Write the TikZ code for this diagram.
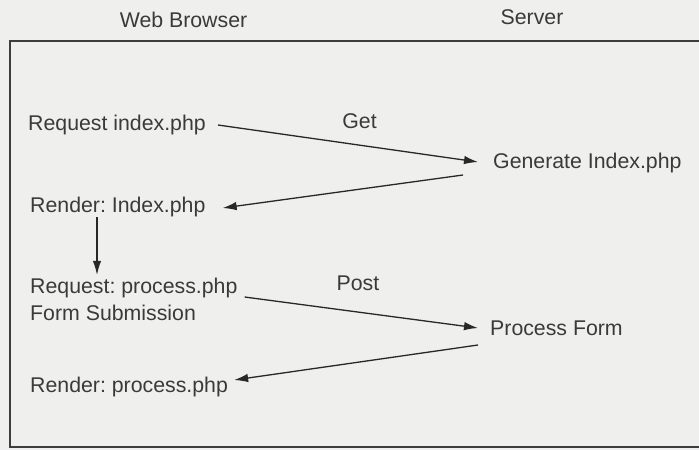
\documentclass[tikz,border=0pt]{standalone}
\usepackage{fontspec}
\setmainfont{Liberation Sans}
\usetikzlibrary{arrows.meta}
\frenchspacing

\definecolor{paper}{RGB}{239,239,237}
\definecolor{ink}{RGB}{58,58,58}
\definecolor{pen}{RGB}{40,40,40}

\begin{document}
\begin{tikzpicture}[x=1pt, y=-1pt,
    lbl/.style={anchor=west, inner sep=0pt, text=ink, font=\fontsize{21.3}{25}\selectfont},
    head/.style={inner sep=0pt, text=ink, font=\fontsize{21.3}{25}\selectfont},
    arr/.style={draw=pen, line width=1.3pt, -{Latex[length=14pt,width=8.5pt]}},
    frame/.style={draw=pen!90, line width=1.6pt}]
    % Page size and paper
    \useasboundingbox (0,0) rectangle (699,450);
    \fill[paper] (0,0) rectangle (699,450);
    % Column headers
    \node[head] (browser) at (183.5,20) {Web Browser};
    \node[head] (server) at (532,17) {Server};
    % Open frame (runs off the right edge)
    \draw[frame] (699,41) -- (10,41) -- (10,447) -- (699,447);
    % Browser side
    \node[lbl] (reqidx) at (28,125) {Request index.php};
    \node[lbl] (rendidx) at (30,207) {Render: Index.php};
    \node[lbl] (reqproc) at (30,288) {Request: process.php};
    \node[lbl] (formsub) at (30,313) {Form Submission};
    \node[lbl] (rendproc) at (30,387) {Render: process.php};
    % Server side
    \node[lbl] (genidx) at (493,163) {Generate Index.php};
    \node[lbl] (procform) at (490,328) {Process Form};
    % Method labels
    \node[head] (get) at (359.5,121) {Get};
    \node[head] (post) at (358,283) {Post};
    % Messages
    \draw[arr] ([xshift=12pt]reqidx.east) -- ([xshift=-15pt,yshift=1pt]genidx.west);
    \draw[arr] ([xshift=-30pt,yshift=-12pt]genidx.west) -- ([xshift=17pt,yshift=-1pt]rendidx.east);
    \draw[arr] ([xshift=67pt]rendidx.south west) -- ([xshift=67pt,yshift=3pt]reqproc.north west);
    \draw[arr] ([xshift=7pt,yshift=-9pt]reqproc.east) -- ([xshift=-12pt]procform.west);
    \draw[arr] ([xshift=-12pt,yshift=-17pt]procform.west) -- ([xshift=6pt,yshift=7pt]rendproc.east);
\end{tikzpicture}
\end{document}
